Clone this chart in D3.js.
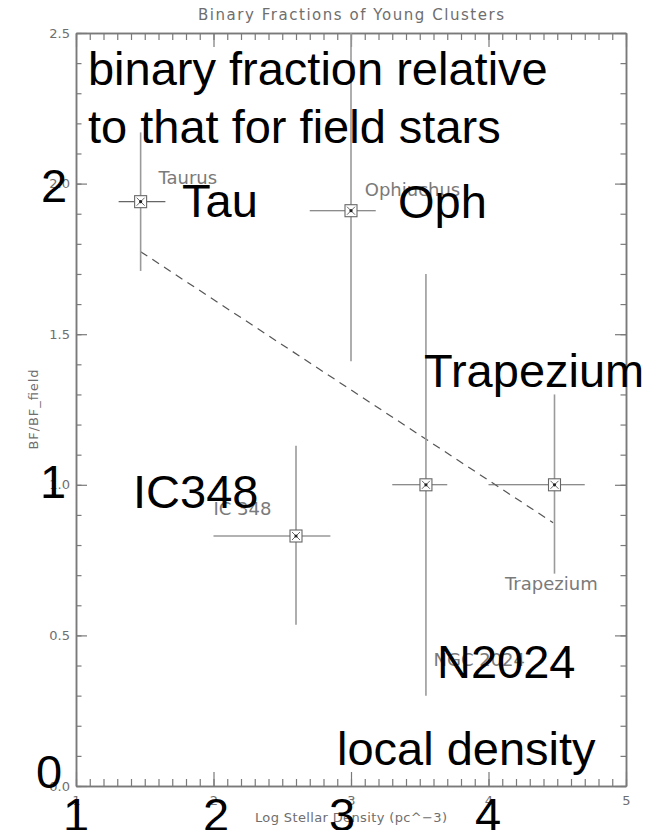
<!DOCTYPE html>
<html>
<head>
<meta charset="utf-8">
<script src="https://cdn.jsdelivr.net/npm/d3@7/dist/d3.min.js"></script>
<style>
  html, body { margin: 0; padding: 0; background: #fff; }
  svg { display: block; }
</style>
</head>
<body>
<svg id="chart" width="670" height="830"></svg>
<script>
// Clusters: log stellar density vs binary fraction relative to the field
const clusters = ["Taurus", "Ophiuchus", "IC 348", "NGC 2024", "Trapezium"];
const logDensity = [1.47, 3.00, 2.60, 3.545, 4.48];
const densityLo  = [1.31, 2.70, 2.00, 3.30, 4.00];
const densityHi  = [1.65, 3.18, 2.85, 3.70, 4.70];
const bfRatio    = [1.94, 1.91, 0.83, 1.00, 1.00];
const bfLo       = [1.71, 1.41, 0.535, 0.30, 0.705];
const bfHi       = [2.17, 2.50, 1.13, 1.70, 1.30];

// Small cluster labels, anchored in data units (x, y)
const labelX = [1.60, 3.10, 2.00, 3.60, 4.12];
const labelY = [2.00, 1.96, 0.90, 0.40, 0.65];

// Dashed trend line
const trendX = [1.47, 4.47];
const trendY = [1.774, 0.874];

// Axis ticks
const xTicks = [1, 2, 3, 4, 5];
const yTicks = [0, 0.5, 1.0, 1.5, 2.0, 2.5];
const xMinor = d3.range(10, 51).map(d => d / 10);
const yMinor = d3.range(0, 26).map(d => d / 10);

// Large annotations, anchored in data units at text start / baseline
const noteText = ["binary fraction relative", "to that for field stars", "Tau", "Oph",
                  "Trapezium", "IC348", "N2024", "local density",
                  "2", "1", "0", "1", "2", "3", "4"];
const noteX = [1.087, 1.087, 1.771, 3.342, 3.531, 1.415, 3.625, 2.898,
               0.745, 0.738, 0.709, 0.905, 1.924, 2.84, 3.902];
const noteY = [2.326, 2.135, 1.889, 1.886, 1.325, 0.923, 0.359, 0.070,
               1.940, 0.956, -0.007, -0.149, -0.149, -0.149, -0.149];

const svg = d3.select("#chart");
const W = 670, H = 830;
const M = { left: 76, right: 626, top: 33, bottom: 786 };

svg.append("rect").attr("width", W).attr("height", H).attr("fill", "#fff");

const x = d3.scaleLinear().domain([1, 5]).range([M.left, M.right]);
const y = d3.scaleLinear().domain([0, 2.5]).range([M.bottom, M.top]);

const axisColor = "#7a7a7a";
const smallFont = "'DejaVu Sans', 'Noto Sans', sans-serif";

function styleAxis(g) {
  g.selectAll(".domain").attr("stroke", axisColor).attr("stroke-width", 1.5);
  g.selectAll(".tick line").attr("stroke", axisColor).attr("stroke-width", 1.2);
  g.selectAll(".tick text").attr("fill", "#6e6e6e")
    .attr("font-family", smallFont).attr("font-size", 13);
}

// Minor ticks (inside the frame)
svg.append("g").attr("transform", `translate(0,${M.bottom})`)
  .call(d3.axisBottom(x).tickValues(xMinor).tickSize(-7).tickSizeOuter(0).tickFormat(""))
  .call(styleAxis);
svg.append("g").attr("transform", `translate(0,${M.top})`)
  .call(d3.axisTop(x).tickValues(xMinor).tickSize(-7).tickSizeOuter(0).tickFormat(""))
  .call(styleAxis);
svg.append("g").attr("transform", `translate(${M.left},0)`)
  .call(d3.axisLeft(y).tickValues(yMinor).tickSize(-5.5).tickSizeOuter(0).tickFormat(""))
  .call(styleAxis);
svg.append("g").attr("transform", `translate(${M.right},0)`)
  .call(d3.axisRight(y).tickValues(yMinor).tickSize(-5.5).tickSizeOuter(0).tickFormat(""))
  .call(styleAxis);

// Major ticks with labels
svg.append("g").attr("transform", `translate(0,${M.bottom})`)
  .call(d3.axisBottom(x).tickValues(xTicks).tickSize(-14).tickSizeOuter(0)
    .tickPadding(10).tickFormat(d3.format("d")))
  .call(styleAxis);
svg.append("g").attr("transform", `translate(0,${M.top})`)
  .call(d3.axisTop(x).tickValues(xTicks).tickSize(-14).tickSizeOuter(0).tickFormat(""))
  .call(styleAxis);
svg.append("g").attr("transform", `translate(${M.left},0)`)
  .call(d3.axisLeft(y).tickValues(yTicks).tickSize(-11).tickSizeOuter(0)
    .tickPadding(6).tickFormat(d3.format(".1f")))
  .call(styleAxis);
svg.append("g").attr("transform", `translate(${M.right},0)`)
  .call(d3.axisRight(y).tickValues(yTicks).tickSize(-11).tickSizeOuter(0).tickFormat(""))
  .call(styleAxis);

// Titles
svg.append("text").attr("x", (M.left + M.right) / 2).attr("y", 20)
  .attr("text-anchor", "middle").attr("font-family", smallFont).attr("font-size", 15)
  .attr("fill", "#6e6e6e").attr("textLength", 306).attr("lengthAdjust", "spacing")
  .text("Binary Fractions of Young Clusters");
svg.append("text").attr("x", (M.left + M.right) / 2).attr("y", 822)
  .attr("text-anchor", "middle").attr("font-family", smallFont).attr("font-size", 13)
  .attr("fill", "#6e6e6e").attr("textLength", 192).attr("lengthAdjust", "spacing")
  .text("Log Stellar Density (pc^\u22123)");
svg.append("text")
  .attr("transform", `translate(38,${(M.top + M.bottom) / 2}) rotate(-90)`)
  .attr("text-anchor", "middle").attr("font-family", smallFont).attr("font-size", 13)
  .attr("fill", "#6e6e6e").attr("textLength", 80).attr("lengthAdjust", "spacing")
  .text("BF/BF_field");

// Dashed trend line
svg.append("path")
  .datum(trendX.map((d, i) => [d, trendY[i]]))
  .attr("fill", "none").attr("stroke", "#555").attr("stroke-width", 1.2)
  .attr("stroke-dasharray", "8,6")
  .attr("d", d3.line().x(d => x(d[0])).y(d => y(d[1])));

const rows = clusters.map((c, i) => ({
  name: c, x: logDensity[i], xl: densityLo[i], xh: densityHi[i],
  y: bfRatio[i], yl: bfLo[i], yh: bfHi[i], lx: labelX[i], ly: labelY[i]
}));

// Error bars
const pts = svg.append("g");
pts.selectAll("line.ey").data(rows).join("line").attr("class", "ey")
  .attr("x1", d => x(d.x)).attr("x2", d => x(d.x))
  .attr("y1", d => y(d.yl)).attr("y2", d => y(d.yh))
  .attr("stroke", "#9a9a9a").attr("stroke-width", 1.6);
pts.selectAll("line.ex").data(rows).join("line").attr("class", "ex")
  .attr("x1", d => x(d.xl)).attr("x2", d => x(d.xh))
  .attr("y1", d => y(d.y)).attr("y2", d => y(d.y))
  .attr("stroke", "#666").attr("stroke-width", 1.1);

// Square-with-cross markers
const mk = pts.selectAll("g.mk").data(rows).join("g").attr("class", "mk")
  .attr("transform", d => `translate(${x(d.x)},${y(d.y)})`);
const s = 6;
mk.append("rect").attr("x", -s).attr("y", -s).attr("width", 2 * s).attr("height", 2 * s)
  .attr("fill", "#fff").attr("stroke", "#666").attr("stroke-width", 1.1);
mk.append("path").attr("d", `M${-s + 2},${-s + 2}L${s - 2},${s - 2}M${-s + 2},${s - 2}L${s - 2},${-s + 2}`)
  .attr("stroke", "#666").attr("stroke-width", 1);
mk.append("circle").attr("r", 1.6).attr("fill", "#222");

// Small cluster labels
pts.selectAll("text.lab").data(rows).join("text").attr("class", "lab")
  .attr("x", d => x(d.lx)).attr("y", d => y(d.ly))
  .attr("font-family", smallFont).attr("font-size", 18).attr("fill", "#7a7a7a")
  .text(d => d.name);

// Large annotations
svg.append("g").selectAll("text").data(noteText).join("text")
  .attr("x", (d, i) => x(noteX[i])).attr("y", (d, i) => y(noteY[i]))
  .attr("font-family", "'Liberation Sans', Arial, sans-serif").attr("font-size", 47)
  .attr("fill", "#000")
  .text(d => d);
</script>
</body>
</html>
